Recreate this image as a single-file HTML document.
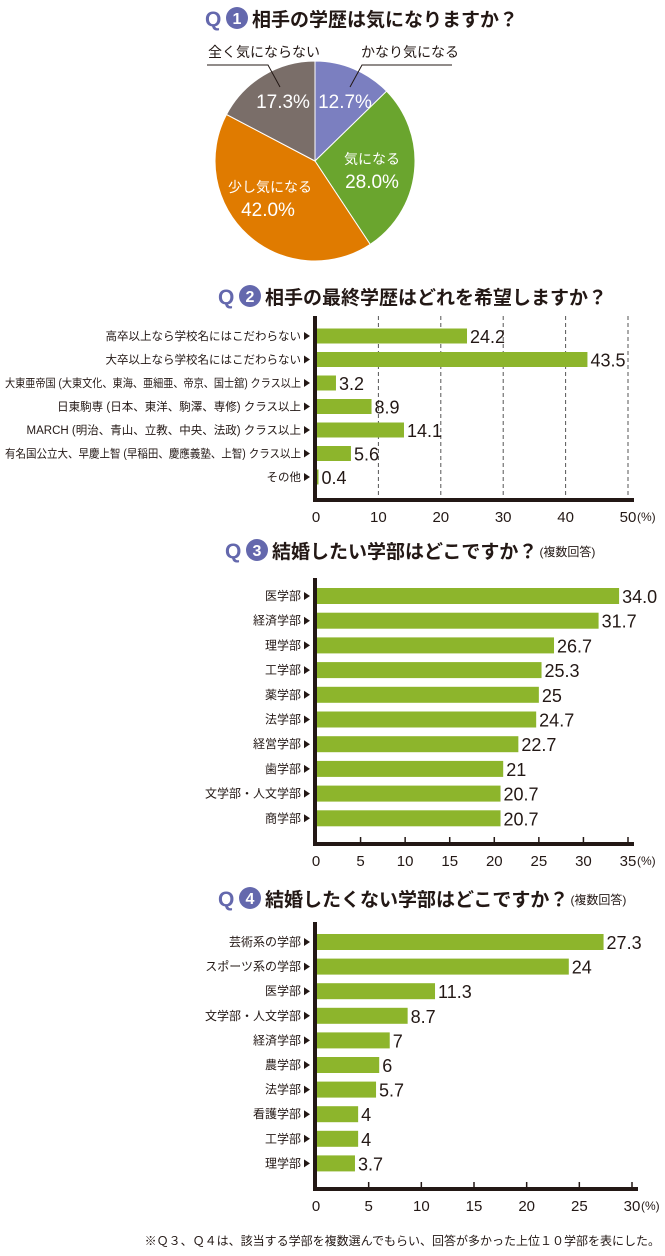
<!DOCTYPE html>
<html><head><meta charset="utf-8"><style>
body{margin:0;background:#fff;}
svg{display:block;font-family:"Liberation Sans","Noto Sans CJK JP",sans-serif;}
</style></head><body>
<svg id="c" width="665" height="1256" viewBox="0 0 665 1256"></svg>
<script>
const pieLabels=["かなり気になる","気になる","少し気になる","全く気にならない"];
const pieValues=[12.7,28.0,42.0,17.3];
const pieColors=["#7b7fc0","#6aa52e","#e07b00","#7a6e69"];

const q2Cats=["高卒以上なら学校名にはこだわらない","大卒以上なら学校名にはこだわらない","大東亜帝国 (大東文化、東海、亜細亜、帝京、国士舘) クラス以上","日東駒専 (日本、東洋、駒澤、専修) クラス以上","MARCH (明治、青山、立教、中央、法政) クラス以上","有名国公立大、早慶上智 (早稲田、慶應義塾、上智) クラス以上","その他"];
const q2Vals=[24.2,43.5,3.2,8.9,14.1,5.6,0.4];
const q2ValLabels=["24.2","43.5","3.2","8.9","14.1","5.6","0.4"];
const q2Ticks=[0,10,20,30,40,50];

const q3Cats=["医学部","経済学部","理学部","工学部","薬学部","法学部","経営学部","歯学部","文学部・人文学部","商学部"];
const q3Vals=[34.0,31.7,26.7,25.3,25,24.7,22.7,21,20.7,20.7];
const q3ValLabels=["34.0","31.7","26.7","25.3","25","24.7","22.7","21","20.7","20.7"];
const q3Ticks=[0,5,10,15,20,25,30,35];

const q4Cats=["芸術系の学部","スポーツ系の学部","医学部","文学部・人文学部","経済学部","農学部","法学部","看護学部","工学部","理学部"];
const q4Vals=[27.3,24,11.3,8.7,7,6,5.7,4,4,3.7];
const q4ValLabels=["27.3","24","11.3","8.7","7","6","5.7","4","4","3.7"];
const q4Ticks=[0,5,10,15,20,25,30];

const NS="http://www.w3.org/2000/svg";
const svg=document.getElementById('c');
function mk(tag,attrs,parent,txt){const e=document.createElementNS(NS,tag);for(const k in attrs)e.setAttribute(k,attrs[k]);if(txt!==undefined)e.textContent=txt;(parent||svg).appendChild(e);return e;}

function title(x,y,num,text,extra,nm){
  const g=mk('g',{});
  
  
  mk('text',{x:x,y:y+8,'font-size':21,'font-weight':'bold',fill:'#6468ad'},g,'Q');
  mk('circle',{cx:x+32,cy:y,r:11,fill:'#6468ad'},g);
  mk('text',{x:x+32,y:y+6,'font-size':16,'font-weight':'bold',fill:'#fff','text-anchor':'middle'},g,num);
  const t=mk('text',{x:x+47,y:y+8,'font-size':19,'font-weight':'bold',fill:'#231815'},g,text);
  if(extra){const w=t.getComputedTextLength();mk('text',{x:x+47+w+2,y:y+6,'font-size':12,fill:'#231815'},g,extra);}
}

// Q1 pie
title(205,18,'1','相手の学歴は気になりますか？','', 'q1-title');
const cx=315,cy=161,R=100;
let tot=pieValues.reduce((a,b)=>a+b,0),acc=0;
const pg=mk('g',{});


pieValues.forEach((v,i)=>{
  const a0=acc/tot*2*Math.PI;acc+=v;const a1=acc/tot*2*Math.PI;
  const p=(a)=>[cx+R*Math.sin(a),cy-R*Math.cos(a)];
  const [x0,y0]=p(a0),[x1,y1]=p(a1);
  const s=mk('path',{d:`M${cx},${cy}L${x0},${y0}A${R},${R} 0 ${a1-a0>Math.PI?1:0} 1 ${x1},${y1}Z`,fill:pieColors[i],stroke:'#fff','stroke-width':1},pg);
  
  
});
function pt(x,y,s,size,anchor,nm){const t=mk('text',{x:x,y:y,'font-size':size,fill:'#fff','text-anchor':anchor||'middle'},svg,s);return t;}
pt(345,108,pieValues[0].toFixed(1)+'%',19,'middle','slice-value-0');
pt(372,164,pieLabels[1],14,'middle','slice-label-1');
pt(372,188,pieValues[1].toFixed(1)+'%',19,'middle','slice-value-1');
pt(270,192,pieLabels[2],14,'middle','slice-label-2');
pt(268,216,pieValues[2].toFixed(1)+'%',19,'middle','slice-value-2');
pt(283,108,pieValues[3].toFixed(1)+'%',19,'middle','slice-value-3');
const o1=mk('text',{x:410,y:57,'font-size':14,fill:'#231815','text-anchor':'middle'},svg,pieLabels[0]);

const o2=mk('text',{x:264,y:57,'font-size':14,fill:'#231815','text-anchor':'middle'},svg,pieLabels[3]);

mk('polyline',{points:'452,65 362,65 350,87',fill:'none',stroke:'#231815','stroke-width':1});
mk('polyline',{points:'207,65 268,65 280,87',fill:'none',stroke:'#231815','stroke-width':1});

function barChart(o){
  const g=mk('g',{});
  
  
  const x0=316,k=(o.xEnd-x0)/o.max;
  const xs=v=>x0+v*k;
  if(o.grid){o.ticks.forEach(t=>{if(t>0){const l=mk('line',{x1:xs(t),x2:xs(t),y1:o.top,y2:o.axisY,stroke:'#555','stroke-width':1,'stroke-dasharray':'4,3'},g);}});}
  o.cats.forEach((c,i)=>{
    const y=o.y0+i*o.step;
    const b=mk('rect',{x:x0,y:y-o.bh/2,width:o.vals[i]*k,height:o.bh,fill:'#8db52c'},g);
    
    
    const v=mk('text',{x:xs(o.vals[i])+3,y:y+7,'font-size':18,fill:'#231815'},g,o.labels[i]);
    
    
    const lt=mk('text',{x:301,y:y+4,'font-size':o.catSize,fill:'#231815','text-anchor':'end'},g,c);
    if(lt.getComputedTextLength()>296){lt.setAttribute('textLength',296);lt.setAttribute('lengthAdjust','spacingAndGlyphs');}
    
    
    mk('path',{d:`M304,${y-4}L310,${y}L304,${y+4}Z`,fill:'#231815'},g);
  });
  mk('rect',{x:313,y:o.top,width:4,height:o.axisY-o.top+4,fill:'#231815'},g);
  mk('rect',{x:313,y:o.axisY,width:o.xEnd-313+6,height:4,fill:'#231815'},g);
  o.ticks.forEach(t=>{
    if(!o.grid&&t>0)mk('line',{x1:xs(t),x2:xs(t),y1:o.axisY-5,y2:o.axisY,stroke:'#231815','stroke-width':1.5},g);
    const tl=mk('text',{x:xs(t),y:o.axisY+24,'font-size':15,fill:'#231815','text-anchor':'middle'},g,String(t));
    
    
  });
  mk('text',{x:xs(o.max)+9,y:o.axisY+23,'font-size':12,fill:'#231815'},g,'(%)');
}

title(218,296,'2','相手の最終学歴はどれを希望しますか？','','q2-title');
barChart({name:'q2-bar-chart',cats:q2Cats,vals:q2Vals,labels:q2ValLabels,ticks:q2Ticks,max:50,xEnd:628,y0:336,step:23.5,bh:15,top:316,axisY:498,grid:true,catSize:11.5});

title(225,550,'3','結婚したい学部はどこですか？','(複数回答)','q3-title');
barChart({name:'q3-bar-chart',cats:q3Cats,vals:q3Vals,labels:q3ValLabels,ticks:q3Ticks,max:35,xEnd:628,y0:596,step:24.7,bh:16,top:578,axisY:842,grid:false,catSize:12});

title(218,898,'4','結婚したくない学部はどこですか？','(複数回答)','q4-title');
barChart({name:'q4-bar-chart',cats:q4Cats,vals:q4Vals,labels:q4ValLabels,ticks:q4Ticks,max:30,xEnd:632,y0:942,step:24.6,bh:16,top:922,axisY:1187,grid:false,catSize:12});

const fn=mk('text',{x:660,y:1245,'font-size':12,fill:'#231815','text-anchor':'end'},svg,'※Ｑ３、Ｑ４は、該当する学部を複数選んでもらい、回答が多かった上位１０学部を表にした。');


</script>
</body></html>
